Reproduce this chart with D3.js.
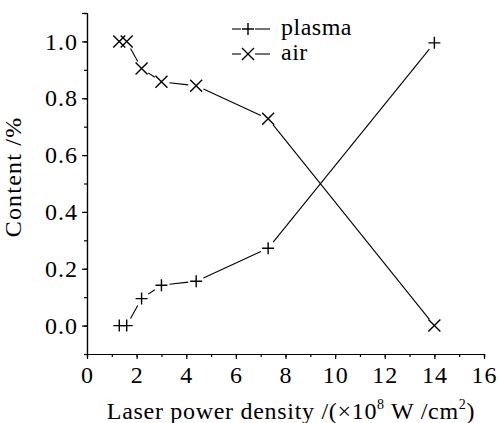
<!DOCTYPE html>
<meta charset="utf-8">
<style>
body { margin: 0; background: #fff; }
.axis path, .axis line { stroke: #000; stroke-width: 1.2; fill: none; }
</style>
<body>
<script src="https://d3js.org/d3.v7.min.js"></script>
<script>

// data
var power  = [1.3, 1.6, 2.2, 3.0, 4.4, 7.3, 14.0];
var plasma = [0.0, 0.0, 0.095, 0.142, 0.156, 0.272, 0.995];
var air    = [1.0, 1.0, 0.905, 0.858, 0.844, 0.728, 0.0];
var xTicks = [0, 2, 4, 6, 8, 10, 12, 14, 16];
var yTicks = [0.0, 0.2, 0.4, 0.6, 0.8, 1.0];

var width = 498, height = 423;
var margin = {left: 87, right: 14, top: 13, bottom: 69};
var serif = "'Liberation Serif'";

var svg = d3.select("body").append("svg")
    .attr("width", width)
    .attr("height", height);

var x = d3.scaleLinear().domain([0, 16]).range([margin.left, width - margin.right]);
var y = d3.scaleLinear().domain([-0.1, 1.1]).range([height - margin.bottom, margin.top]);

function label(sel, size) {
  sel.style("font-family", serif).style("font-size", size + "px").style("fill", "#000");
}

// minor ticks first, then major ones with labels
svg.append("g")
    .attr("class", "axis")
    .attr("transform", "translate(0," + (height - margin.bottom) + ")")
    .call(d3.axisBottom(x).tickValues(d3.range(0, 17, 1)).tickSize(3).tickFormat(""));
svg.append("g")
    .attr("class", "axis")
    .attr("transform", "translate(0," + (height - margin.bottom) + ")")
    .call(d3.axisBottom(x).tickValues(xTicks).tickSize(5).tickSizeOuter(0).tickPadding(7))
    .selectAll("text").call(label, 24).style("letter-spacing", "1px");

svg.append("g")
    .attr("class", "axis")
    .attr("transform", "translate(" + margin.left + ",0)")
    .call(d3.axisLeft(y).tickValues(d3.range(-0.1, 1.15, 0.1)).tickSize(3).tickFormat(""));
svg.append("g")
    .attr("class", "axis")
    .attr("transform", "translate(" + margin.left + ",0)")
    .call(d3.axisLeft(y).tickValues(yTicks.concat([1.1])).tickSize(5).tickSizeOuter(0).tickPadding(4)
      .tickFormat(function(d) { return d > 1.05 ? "" : d3.format(".1f")(d); }))
    .selectAll("text").call(label, 24).style("letter-spacing", "1px");

// axis titles
svg.append("text")
    .attr("transform", "translate(21,177) rotate(-90)")
    .attr("text-anchor", "middle")
    .call(label, 24)
    .style("letter-spacing", "1.2px")
    .text("Content /%");

var xl = svg.append("text")
    .attr("x", 291)
    .attr("y", 419)
    .attr("text-anchor", "middle")
    .call(label, 24)
    .style("letter-spacing", "0.7px");
xl.append("tspan").text("Laser power density /(\u00d710");
xl.append("tspan").attr("dy", -10).style("font-size", "14px").text("8");
xl.append("tspan").attr("dy", 10).text(" W /cm");
xl.append("tspan").attr("dy", -10).style("font-size", "14px").text("2");
xl.append("tspan").attr("dy", 10).text(")");

// markers
function plus(g, cx, cy) {
  g.append("path").attr("d", "M" + (cx - 6) + "," + cy + "H" + (cx + 6) + "M" + cx + "," + (cy - 6) + "V" + (cy + 6))
    .attr("stroke", "#000").attr("stroke-width", 1.4).attr("fill", "none");
}
function cross(g, cx, cy) {
  g.append("path").attr("d", "M" + (cx - 6) + "," + (cy - 6) + "L" + (cx + 6) + "," + (cy + 6) +
      "M" + (cx - 6) + "," + (cy + 6) + "L" + (cx + 6) + "," + (cy - 6))
    .attr("stroke", "#000").attr("stroke-width", 1.4).attr("fill", "none");
}

// line segments leave a gap around each marker
function drawSeries(vals, marker) {
  var g = svg.append("g");
  var pts = power.map(function(p, i) { return [x(p), y(vals[i])]; });
  for (var i = 0; i < pts.length - 1; i++) {
    var a = pts[i], b = pts[i + 1];
    var dx = b[0] - a[0], dy = b[1] - a[1], len = Math.sqrt(dx * dx + dy * dy);
    var gap = 8;
    if (len <= 2 * gap + 1) continue;
    var ux = dx / len, uy = dy / len;
    g.append("line")
      .attr("x1", a[0] + ux * gap).attr("y1", a[1] + uy * gap)
      .attr("x2", b[0] - ux * gap).attr("y2", b[1] - uy * gap)
      .attr("stroke", "#000").attr("stroke-width", 1.1);
  }
  pts.forEach(function(p) { marker(g, p[0], p[1]); });
}
drawSeries(plasma, plus);
drawSeries(air, cross);

// legend
var legend = svg.append("g").attr("class", "legend");
var legendItems = [["plasma", plus, 29], ["air", cross, 54]];
legendItems.forEach(function(d) {
  legend.append("line").attr("x1", 232).attr("x2", 241).attr("y1", d[2]).attr("y2", d[2])
    .attr("stroke", "#000").attr("stroke-width", 1.1);
  legend.append("line").attr("x1", 255).attr("x2", 270).attr("y1", d[2]).attr("y2", d[2])
    .attr("stroke", "#000").attr("stroke-width", 1.1);
  d[1](legend, 248, d[2]);
  legend.append("text").attr("x", 281).attr("y", d[2] + 6)
    .call(label, 24).style("letter-spacing", "0.5px").text(d[0]);
});

</script>
</body>
